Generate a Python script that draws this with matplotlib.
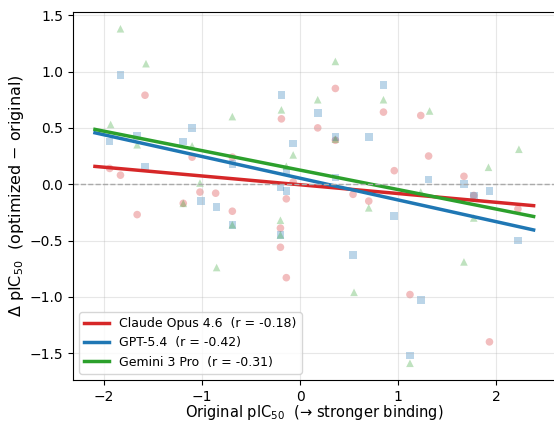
import numpy as np
import matplotlib
matplotlib.use("Agg")
import matplotlib.pyplot as plt

# Claude Opus 4.6 (circles)
claude_x = [-1.58, -1.94, -1.83, -1.10, -1.02, -0.86, -0.69, -0.19, 0.36, 0.18,
            0.36, 0.85, -0.07, -0.14, 0.54, 0.96, 1.23, 1.31, 1.67, 1.77,
            -1.66, -1.19, -0.69, -0.20, -0.20, -0.14, 0.70, 2.22, 1.12, 1.93]
claude_y = [0.79, 0.14, 0.08, 0.24, -0.07, -0.08, 0.24, 0.58, 0.85, 0.50,
            0.39, 0.64, 0.02, -0.13, -0.09, 0.12, 0.61, 0.25, 0.07, -0.10,
            -0.27, -0.17, -0.24, -0.39, -0.56, -0.83, -0.15, -0.22, -0.98, -1.40]

# GPT-5.4 (squares)
gpt_x = [-1.83, -1.94, -1.66, -1.58, -1.10, -1.19, -0.69, -0.19, -0.07, -0.14,
         -0.20, -0.14, 0.18, 0.36, 0.36, 0.70, 0.85, 1.31, 1.67, 1.77,
         1.93, -1.01, -0.85, -0.69, -0.20, 0.54, 0.96, 2.22, 1.23, 1.12]
gpt_y = [0.97, 0.38, 0.43, 0.15, 0.50, 0.38, 0.18, 0.79, 0.36, 0.11,
         -0.03, -0.06, 0.63, 0.42, 0.06, 0.42, 0.88, 0.04, 0.00, -0.10,
         -0.06, -0.15, -0.20, -0.36, -0.45, -0.63, -0.28, -0.50, -1.03, -1.52]

# Gemini 3 Pro (triangles)
gemini_x = [-1.83, -1.57, -1.93, -1.66, -0.69, -1.10, -1.02, -0.19, -0.07, -0.14,
            0.18, 0.36, 0.36, 0.85, 1.32, 1.92, 2.23, 1.23, -1.19, -0.69,
            -0.85, -0.20, -0.20, 0.70, 0.55, 1.77, 1.67, 1.12]
gemini_y = [1.38, 1.07, 0.53, 0.35, 0.60, 0.34, 0.01, 0.66, 0.26, 0.16,
            0.75, 1.09, 0.40, 0.75, 0.65, 0.15, 0.31, -0.07, -0.17, -0.36,
            -0.74, -0.32, -0.45, -0.21, -0.96, -0.30, -0.69, -1.59]

# regression lines
fit_slope = [-0.078, -0.193, -0.173]
fit_intercept = [-0.005, 0.053, 0.125]

labels = ["Claude Opus 4.6  (r = -0.18)", "GPT-5.4  (r = -0.42)", "Gemini 3 Pro  (r = -0.31)"]
colors = ["#d62728", "#1f77b4", "#2ca02c"]
markers = ["o", "s", "^"]

fig = plt.figure(figsize=(5.54, 4.21), dpi=100)
ax = fig.add_axes([0.1318, 0.0974, 0.871, 0.874])

series = [(claude_x, claude_y), (gpt_x, gpt_y), (gemini_x, gemini_y)]
all_x = np.concatenate([np.array(s[0]) for s in series])
xs = np.linspace(all_x.min() - 0.15, all_x.max() + 0.15, 50)

for (x, y), c, m in zip(series, colors, markers):
    ax.scatter(x, y, color=c, marker=m, s=30, alpha=0.3, edgecolors="none")

for k, (c, lab) in enumerate(zip(colors, labels)):
    ax.plot(xs, fit_slope[k] * xs + fit_intercept[k], color=c, lw=2.5, label=lab)

ax.axhline(0, color="#aaaaaa", ls="--", lw=1)
ax.grid(True, alpha=0.3)
ax.tick_params(labelsize=10)
ax.set_xlabel("Original pIC$_{50}$  (→ stronger binding)", fontsize=10.5, labelpad=-0.5)
ax.set_ylabel("Δ pIC$_{50}$  (optimized − original)", fontsize=11.5, labelpad=3)
ax.legend(loc="lower left", fontsize=9)

fig.savefig("out.png", dpi=100)
